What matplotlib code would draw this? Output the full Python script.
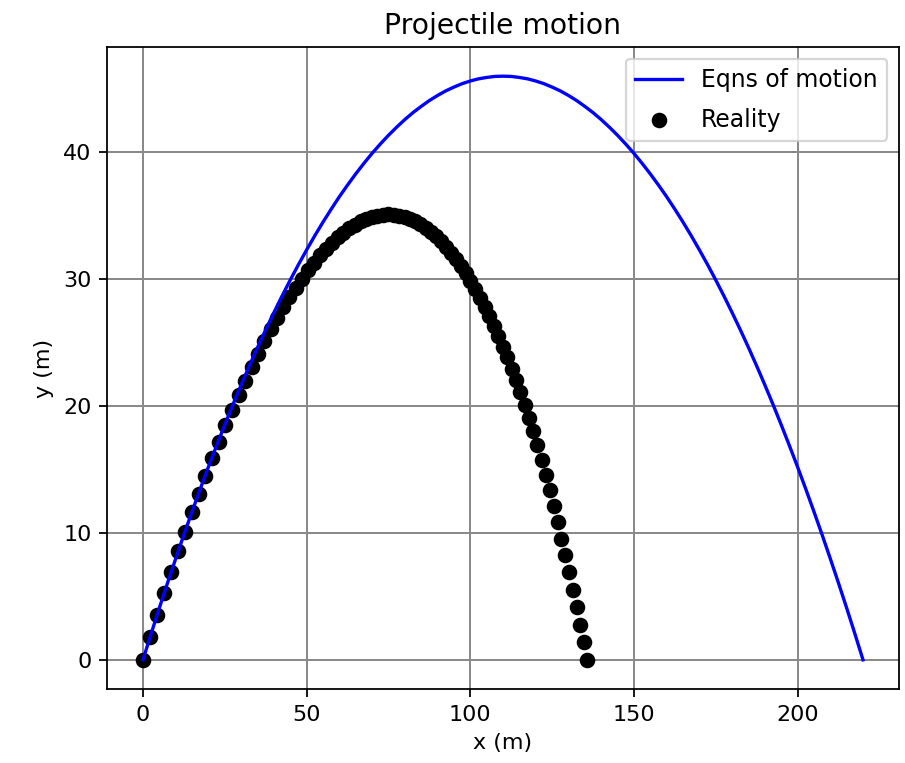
import matplotlib
matplotlib.use("Agg")
import matplotlib.pyplot as plt

# Eqns of motion curve, every 2.5 m
x_eqn = [0, 2.5, 5, 7.5, 10, 12.5, 15, 17.5, 20, 22.5, 25, 27.5, 30, 32.5, 35, 37.5, 40, 42.5,
         45, 47.5, 50, 52.5, 55, 57.5, 60, 62.5, 65, 67.5, 70, 72.5, 75, 77.5, 80, 82.5, 85,
         87.5, 90, 92.5, 95, 97.5, 100, 102.5, 105, 107.5, 110, 112.5, 115, 117.5, 120, 122.5,
         125, 127.5, 130, 132.5, 135, 137.5, 140, 142.5, 145, 147.5, 150, 152.5, 155, 157.5,
         160, 162.5, 165, 167.5, 170, 172.5, 175, 177.5, 180, 182.5, 185, 187.5, 190, 192.5,
         195, 197.5, 200, 202.5, 205, 207.5, 210, 212.5, 215, 217.5, 220]
y_eqn = [0.0, 2.07, 4.09, 6.06, 7.98, 9.86, 11.69, 13.47, 15.21, 16.89, 18.53, 20.13, 21.67,
         23.17, 24.62, 26.02, 27.37, 28.68, 29.94, 31.15, 32.31, 33.43, 34.50, 35.52, 36.50,
         37.42, 38.30, 39.13, 39.92, 40.65, 41.34, 41.98, 42.58, 43.13, 43.62, 44.08, 44.48,
         44.84, 45.14, 45.41, 45.62, 45.79, 45.90, 45.98, 46.00, 45.98, 45.90, 45.79, 45.62,
         45.41, 45.14, 44.84, 44.48, 44.08, 43.62, 43.13, 42.58, 41.98, 41.34, 40.65, 39.92,
         39.13, 38.30, 37.42, 36.50, 35.52, 34.50, 33.43, 32.31, 31.15, 29.94, 28.68, 27.37,
         26.02, 24.62, 23.17, 21.67, 20.13, 18.53, 16.89, 15.21, 13.47, 11.69, 9.86, 7.98,
         6.06, 4.09, 2.07, 0.0]

# "Reality" points (with drag)
x_real = [0.0, 2.17, 4.33, 6.47, 8.60, 10.72, 12.83, 14.92, 17.00, 19.06, 21.12, 23.16, 25.18,
          27.20, 29.20, 31.19, 33.16, 35.12, 37.07, 39.01, 40.93, 42.84, 44.74, 46.62, 48.49,
          50.35, 52.20, 54.03, 55.85, 57.65, 59.45, 61.23, 62.99, 64.75, 66.49, 68.22, 69.93,
          71.63, 73.32, 75.00, 76.66, 78.31, 79.95, 81.57, 83.18, 84.78, 86.37, 87.94, 89.50,
          91.04, 92.58, 94.10, 95.60, 97.10, 98.58, 100.05, 101.50, 102.94, 104.37, 105.79,
          107.19, 108.58, 109.96, 111.32, 112.67, 114.01, 115.34, 116.65, 117.95, 119.23,
          120.51, 121.77, 123.01, 124.25, 125.47, 126.68, 127.87, 129.05, 130.22, 131.38,
          132.52, 133.65, 134.77, 135.60]
y_real = [0.0, 1.81, 3.57, 5.28, 6.94, 8.55, 10.11, 11.63, 13.09, 14.51, 15.88, 17.20, 18.47,
          19.70, 20.87, 22.00, 23.08, 24.12, 25.10, 26.04, 26.93, 27.78, 28.57, 29.33, 30.03,
          30.69, 31.30, 31.87, 32.39, 32.86, 33.29, 33.67, 34.01, 34.30, 34.55, 34.75, 34.90,
          35.01, 35.08, 35.10, 35.08, 35.01, 34.90, 34.75, 34.55, 34.32, 34.04, 33.73, 33.37,
          32.98, 32.55, 32.08, 31.58, 31.04, 30.47, 29.86, 29.22, 28.54, 27.83, 27.09, 26.32,
          25.52, 24.69, 23.83, 22.93, 22.02, 21.07, 20.09, 19.09, 18.02, 16.91, 15.76, 14.58,
          13.37, 12.13, 10.86, 9.56, 8.24, 6.90, 5.54, 4.16, 2.77, 1.37, 0.0]

fig = plt.figure(figsize=(905 / 160, 763 / 160), dpi=160)
ax = fig.add_axes([107 / 905, 74 / 763, 792 / 905, 642 / 763])

ax.plot(x_eqn, y_eqn, color="blue", label="Eqns of motion")
ax.scatter(x_real, y_real, color="black", label="Reality")

ax.set_title("Projectile motion", fontsize=12.7)
ax.set_xlabel("x (m)")
ax.set_ylabel("y (m)")
ax.grid(color="#8a8a8a", linewidth=0.9)
ax.set_axisbelow(True)
ax.legend(loc="upper right", fontsize=10.6, labelspacing=0.65)

fig.savefig("out.png", dpi=160)
